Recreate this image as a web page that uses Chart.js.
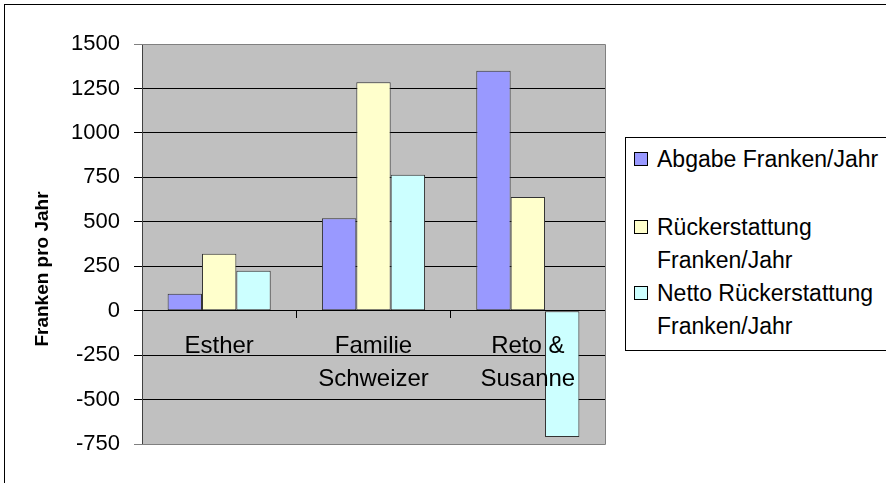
<!DOCTYPE html>
<html>
<head>
<meta charset="utf-8">
<script src="https://cdn.jsdelivr.net/npm/chart.js@4.4.0/dist/chart.umd.min.js"></script>
<style>
  html, body { margin: 0; padding: 0; background: #fff; overflow: hidden; }
  #wrap { position: relative; width: 886px; height: 483px; }
  #frame { position: absolute; left: 4px; top: 4px; width: 1000px; height: 1000px; border: 1px solid #000; }
  #legend {
    position: absolute; left: 625px; top: 137px; width: 320px; height: 212px;
    border: 1px solid #000; background: #fff;
    font-family: "Liberation Sans", Arial, sans-serif; font-size: 23px; color: #000;
  }
  .item { position: absolute; left: 8px; line-height: 33px; }
  .item span.box { position: absolute; left: 0; top: 9px; width: 12px; height: 12px; border: 1px solid #000; }
  .item div { margin-left: 23px; white-space: nowrap; }
</style>
</head>
<body>
<div id="wrap">
  <div id="frame"></div>
  <canvas id="myChart" width="886" height="483" style="position:absolute;left:0;top:0"></canvas>
  <div id="legend"></div>
</div>
<script>
// data
const categories = ['Esther', ['Familie', 'Schweizer'], ['Reto &', 'Susanne']];
const abgabe = [95, 520, 1350];
const rueckerstattung = [320, 1285, 640];
const netto = [225, 765, -710];
const seriesNames = ['Abgabe Franken/Jahr', 'Rückerstattung Franken/Jahr', 'Netto Rückerstattung Franken/Jahr'];
const legendLines = [['Abgabe Franken/Jahr'], ['Rückerstattung', 'Franken/Jahr'], ['Netto Rückerstattung', 'Franken/Jahr']];
const colors = ['#9999FF', '#FFFFCC', '#CCFFFF'];

const FONT = '"Liberation Sans", Arial, sans-serif';

// legend (html)
const legend = document.getElementById('legend');
const legendTops = [5, 73, 139];
legendLines.forEach(function (lines, i) {
    const it = document.createElement('div');
    it.className = 'item';
    it.style.top = legendTops[i] + 'px';
    const box = document.createElement('span');
    box.className = 'box';
    box.style.background = colors[i];
    const txt = document.createElement('div');
    txt.innerHTML = lines.join('<br>');
    it.appendChild(box);
    it.appendChild(txt);
    legend.appendChild(it);
});

// gray plot background + border, y title
const plotArea = {
    id: 'plotArea',
    beforeDraw(chart) {
        const { ctx, chartArea: { left, top, width, height } } = chart;
        ctx.save();
        ctx.fillStyle = '#C0C0C0';
        ctx.fillRect(left, top, width, height);
        ctx.restore();
    },
    afterDraw(chart) {
        const { ctx, chartArea: { left, top, right, bottom } } = chart;
        ctx.save();
        ctx.strokeStyle = '#808080';
        ctx.lineWidth = 1;
        ctx.beginPath();
        ctx.moveTo(left, top + 0.5);
        ctx.lineTo(right + 0.5, top + 0.5);
        ctx.lineTo(right + 0.5, bottom + 0.5);
        ctx.lineTo(left, bottom + 0.5);
        ctx.stroke();

        ctx.translate(43, 269);
        ctx.rotate(-Math.PI / 2);
        ctx.font = 'bold 19px ' + FONT;
        ctx.fillStyle = '#000';
        ctx.textAlign = 'center';
        ctx.textBaseline = 'middle';
        ctx.fillText('Franken pro Jahr', 0, 0);
        ctx.restore();
    }
};

const data = {
    labels: categories,
    datasets: [
        { label: seriesNames[0], data: abgabe, backgroundColor: colors[0] },
        { label: seriesNames[1], data: rueckerstattung, backgroundColor: colors[1] },
        { label: seriesNames[2], data: netto, backgroundColor: colors[2] }
    ]
};

const config = {
    type: 'bar',
    data,
    options: {
        responsive: false,
        animation: false,
        layout: { padding: { left: 0, top: 44, right: 281, bottom: 39 } },
        datasets: {
            bar: {
                categoryPercentage: 0.668,
                barPercentage: 1,
                borderColor: '#333',
                borderWidth: 1,
                borderSkipped: false
            }
        },
        plugins: {
            legend: { display: false },
            tooltip: { enabled: false }
        },
        scales: {
            x: {
                position: { y: 0 },
                offset: true,
                border: { display: true, color: '#000', z: 1 },
                grid: { drawOnChartArea: false, drawTicks: true, tickLength: 7, offset: true, color: '#000' },
                ticks: { z: 1, color: '#000', font: { family: FONT, size: 24, lineHeight: 1.375 }, padding: 12, maxRotation: 0 }
            },
            y: {
                min: -750,
                max: 1500,
                afterFit(scale) { scale.width = 142; },
                border: { display: true, color: '#404040' },
                grid: {
                    color: function (c) {
                        const v = c.tick ? c.tick.value : 0;
                        return (v === 1500 || v === -750) ? '#808080' : '#000';
                    },
                    tickLength: 8
                },
                ticks: {
                    stepSize: 250, color: '#000', font: { family: FONT, size: 22 }, padding: 14,
                    callback: function (v) { return String(v); }
                }
            }
        }
    },
    plugins: [plotArea]
};

const myChart = new Chart(document.getElementById('myChart'), config);
</script>
</body>
</html>
